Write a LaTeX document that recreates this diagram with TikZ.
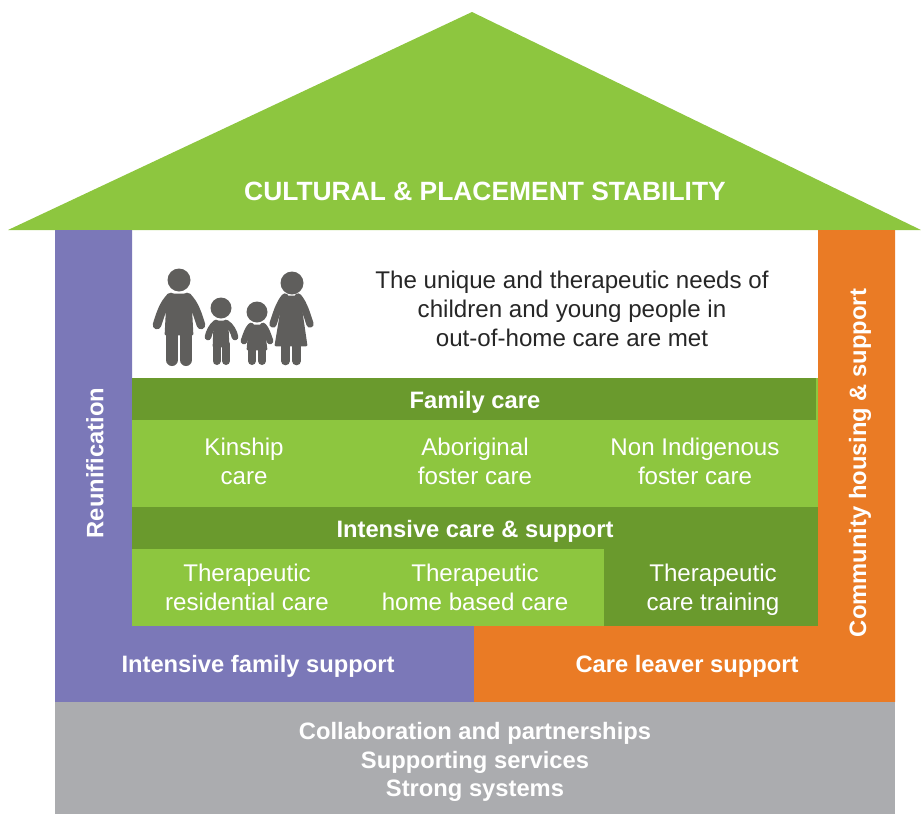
\documentclass[tikz,border=0pt]{standalone}
\usepackage{fontspec}
\setmainfont{Liberation Sans}
\definecolor{roofgreen}{HTML}{8DC63F}
\definecolor{darkgreen}{HTML}{6A9A2D}
\definecolor{purplewall}{HTML}{7B78B8}
\definecolor{orangewall}{HTML}{EA7B25}
\definecolor{floorgray}{HTML}{ABACAF}
\definecolor{figuregray}{HTML}{5F5E5C}
\tikzset{
  title/.style={text=white, font=\fontsize{19.8pt}{22pt}\selectfont\bfseries, align=center},
  heading/.style={text=white, font=\fontsize{17.8pt}{21.4pt}\selectfont\bfseries, align=center},
  label/.style={text=white, font=\fontsize{18.1pt}{21.6pt}\selectfont, align=center},
  message/.style={text=black!85, font=\fontsize{18.1pt}{21.9pt}\selectfont, align=center},
  limb/.style={draw=figuregray, line cap=round, line join=round},
  body/.style={fill=figuregray, draw=figuregray, line width=2pt, line join=round}
}
\begin{document}
\begin{tikzpicture}[x=0.75pt, y=-0.75pt]
\useasboundingbox (0,0) rectangle (921,814);

% Roof
\fill[roofgreen] (472,12) -- (8,230) -- (921,230) -- cycle;
\node[title] (roof) at (485,191) {CULTURAL \& PLACEMENT STABILITY};

% Walls
\fill[purplewall] (55,230) -- (132,230) -- (132,626) -- (474,626) -- (474,702) -- (55,702) -- cycle;
\fill[orangewall] (818,230) -- (895,230) -- (895,702) -- (474,702) -- (474,626) -- (818,626) -- cycle;
\fill[floorgray] (55,702) rectangle (895,814);

% Family care
\fill[roofgreen] (132,378) rectangle (818,507);
\fill[darkgreen] (132,378) rectangle (816,420);

% Intensive care
\fill[darkgreen] (132,507) rectangle (818,549);
\fill[roofgreen] (132,549) rectangle (604,626);
\fill[darkgreen] (604,549) rectangle (818,626);

% Family figures
\fill[figuregray] (179,280) circle (11.5);
\fill[figuregray] (221,308) circle (10.5);
\fill[figuregray] (257,312) circle (10.5);
\fill[figuregray] (292,283) circle (11.5);
\fill[body] (168,295) -- (190,295) -- (192,334) -- (166,334) -- cycle;
\draw[limb, line width=6.5pt] (171,297) .. controls (163,304) and (160,316) .. (157,325);
\draw[limb, line width=6.5pt] (187,297) .. controls (195,304) and (198,316) .. (201,325);
\draw[limb, line width=9pt] (172,330) -- (172,360);
\draw[limb, line width=9pt] (186,330) -- (186,360);
\fill[body] (215,322) -- (227,322) -- (228,346) -- (214,346) -- cycle;
\draw[limb, line width=5pt] (216,323) .. controls (212,326) and (209,332) .. (208,337);
\draw[limb, line width=5pt] (226,323) .. controls (231,326) and (234,332) .. (235,337);
\draw[limb, line width=6pt] (216.5,344) -- (216.5,361);
\draw[limb, line width=6pt] (226,344) -- (226,361);
\fill[body] (250,326) -- (263,326) -- (266,349) -- (248,349) -- cycle;
\draw[limb, line width=5pt] (251,326) .. controls (248,329) and (246,335) .. (244,341);
\draw[limb, line width=5pt] (263,326) .. controls (266,329) and (268,335) .. (270,341);
\draw[limb, line width=6pt] (252,348) -- (252,361);
\draw[limb, line width=6pt] (262,348) -- (262,361);
\fill[body] (284,297) -- (299,297) -- (306,345) -- (276,345) -- cycle;
\draw[limb, line width=5.5pt] (285,297) .. controls (279,304) and (276,315) .. (273,324);
\draw[limb, line width=5.5pt] (298,297) .. controls (304,304) and (307,315) .. (310,324);
\draw[limb, line width=6.5pt] (285.5,344) -- (285.5,361);
\draw[limb, line width=6.5pt] (296.5,344) -- (296.5,361);

% Outcome
\node[message] (outcome) at (572,309) {The unique and therapeutic needs of\\children and young people in\\out-of-home care are met};

% Labels
\node[heading] (family) at (475,402) {Family care};
\node[label] (kinship) at (244,461) {Kinship\\care};
\node[label] (aboriginal) at (475,461) {Aboriginal\\foster care};
\node[label] (nonindig) at (695,461) {Non Indigenous\\foster care};
\node[heading] (intensive) at (475,531) {Intensive care \& support};
\node[label] (residential) at (247,587) {Therapeutic\\residential care};
\node[label] (homebased) at (475,587) {Therapeutic\\home based care};
\node[label] (training) at (713,590) {Therapeutic\\care training};
\node[heading, rotate=90] (reunification) at (95,463) {Reunification};
\node[heading, rotate=90] (housing) at (860,463) {Community housing \& support};
\node[heading] (ifs) at (258,666) {Intensive family support};
\node[heading] (leaver) at (687,666) {Care leaver support};
\node[heading] (systems) at (475,762) {Collaboration and partnerships\\Supporting services\\Strong systems};

\end{tikzpicture}
\end{document}
